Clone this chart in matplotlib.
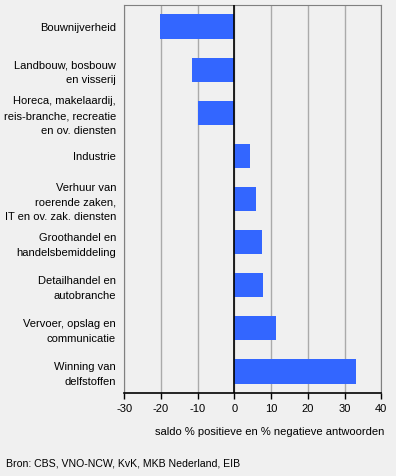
import matplotlib
matplotlib.use("Agg")
import matplotlib.pyplot as plt

plt.rcParams['font.family'] = ['Liberation Sans', 'DejaVu Sans']
plt.rcParams['font.size'] = 8

# sectors from top to bottom, as in the chart
sectors = [
    "Bouwnijverheid",
    "Landbouw, bosbouw\nen visserij",
    "Horeca, makelaardij,\nreis-branche, recreatie\nen ov. diensten",
    "Industrie",
    "Verhuur van\nroerende zaken,\nIT en ov. zak. diensten",
    "Groothandel en\nhandelsbemiddeling",
    "Detailhandel en\nautobranche",
    "Vervoer, opslag en\ncommunicatie",
    "Winning van\ndelfstoffen",
]
saldo = [-20.2, -11.5, -9.9, 4.3, 5.9, 7.5, 7.8, 11.4, 33.2]

xticks = [-30, -20, -10, 0, 10, 20, 30, 40]
xlabel = "saldo % positieve en % negatieve antwoorden"
source = "Bron: CBS, VNO-NCW, KvK, MKB Nederland, EIB"

bg = "#f0f0f0"
fig = plt.figure(figsize=(3.96, 4.76), dpi=100, facecolor=bg)
ax = fig.add_axes([0.314, 0.1744, 0.649, 0.8151], facecolor=bg)

ypos = list(range(len(sectors)))
ax.barh(ypos, saldo, height=0.56, color="#3366ff", zorder=3)
ax.axvline(0, color="black", lw=1.2, zorder=4)

ax.set_xlim(-30, 40)
ax.set_ylim(len(sectors) - 0.5, -0.5)
ax.set_xticks(xticks)
ax.set_xticklabels([str(t) for t in xticks])
ax.xaxis.grid(True, color="#aaaaaa", lw=1, zorder=0)
ax.set_yticks(ypos)
ax.set_yticklabels(sectors, linespacing=1.58)
ax.tick_params(axis='y', length=0, pad=6)
ax.tick_params(axis='x', direction='out', length=4, width=1, color='black', pad=4)

for side in ['left', 'top', 'right']:
    ax.spines[side].set_color("#808080")
ax.spines['bottom'].set_color("black")
ax.spines['bottom'].set_linewidth(1.2)

fig.text(384 / 396, 1 - 432 / 476, xlabel, ha='right', va='center', fontsize=8)
fig.text(6 / 396, 1 - 464 / 476, source, ha='left', va='center', fontsize=7.6)

fig.savefig("out.png", dpi=100, facecolor=bg)
